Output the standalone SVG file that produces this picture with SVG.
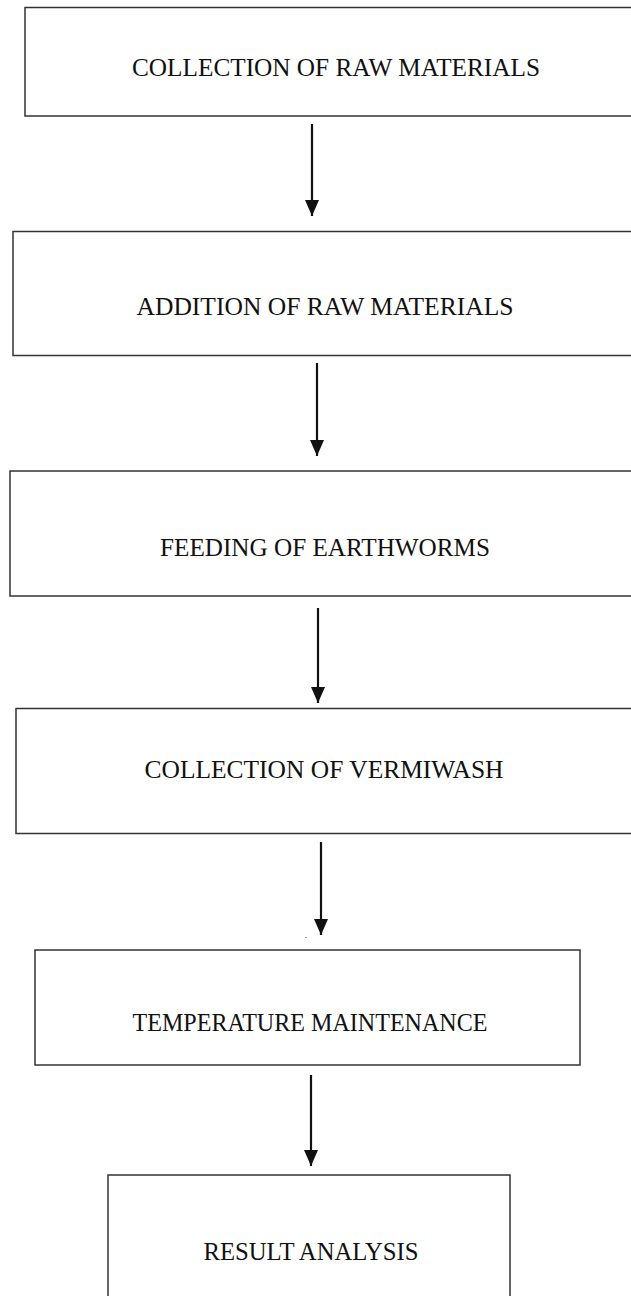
<svg xmlns="http://www.w3.org/2000/svg" width="631" height="1296" viewBox="0 0 631 1296">
<style>
.box{fill:#fff;stroke:#333;stroke-width:1.5}
.lbl{font-family:"Liberation Serif","Times New Roman",serif;font-size:25px;fill:#111;text-anchor:middle}
.arr{stroke:#111;stroke-width:2.2;fill:none}
</style>
<defs>
<marker id="ah" viewBox="0 0 16 14" refX="16" refY="7" markerWidth="16" markerHeight="14" markerUnits="userSpaceOnUse" orient="auto">
<path d="M0,0 L16,7 L0,14 Z" fill="#111"/>
</marker>
</defs>
<rect width="631" height="1296" fill="#fff"/>
<g id="n1"><rect class="box" x="25" y="7.5" width="620" height="108.5"/><text class="lbl" x="336" y="76" textLength="408" lengthAdjust="spacingAndGlyphs">COLLECTION OF RAW MATERIALS</text></g>
<g id="n2"><rect class="box" x="13" y="231.5" width="640" height="124"/><text class="lbl" x="325" y="315" textLength="377" lengthAdjust="spacingAndGlyphs">ADDITION OF RAW MATERIALS</text></g>
<g id="n3"><rect class="box" x="10" y="471" width="640" height="125"/><text class="lbl" x="325" y="556" textLength="330" lengthAdjust="spacingAndGlyphs">FEEDING OF EARTHWORMS</text></g>
<g id="n4"><rect class="box" x="16" y="708.5" width="640" height="125"/><text class="lbl" x="324" y="778" textLength="359" lengthAdjust="spacingAndGlyphs">COLLECTION OF VERMIWASH</text></g>
<g id="n5"><rect class="box" x="35" y="950" width="545" height="115"/><text class="lbl" x="310" y="1031" textLength="355" lengthAdjust="spacingAndGlyphs">TEMPERATURE MAINTENANCE</text></g>
<g id="n6"><rect class="box" x="108" y="1175" width="402" height="140"/><text class="lbl" x="311" y="1260" textLength="215" lengthAdjust="spacingAndGlyphs">RESULT ANALYSIS</text></g>
<g id="connectors">
<line class="arr" x1="312" y1="124" x2="312" y2="216" marker-end="url(#ah)"/>
<line class="arr" x1="317" y1="363" x2="317" y2="456" marker-end="url(#ah)"/>
<line class="arr" x1="318" y1="608" x2="318" y2="703" marker-end="url(#ah)"/>
<line class="arr" x1="321" y1="842" x2="321" y2="935" marker-end="url(#ah)"/>
<line class="arr" x1="311" y1="1075" x2="311" y2="1166" marker-end="url(#ah)"/>
</g>
<rect x="305" y="937" width="2" height="1" fill="#999"/>
</svg>
